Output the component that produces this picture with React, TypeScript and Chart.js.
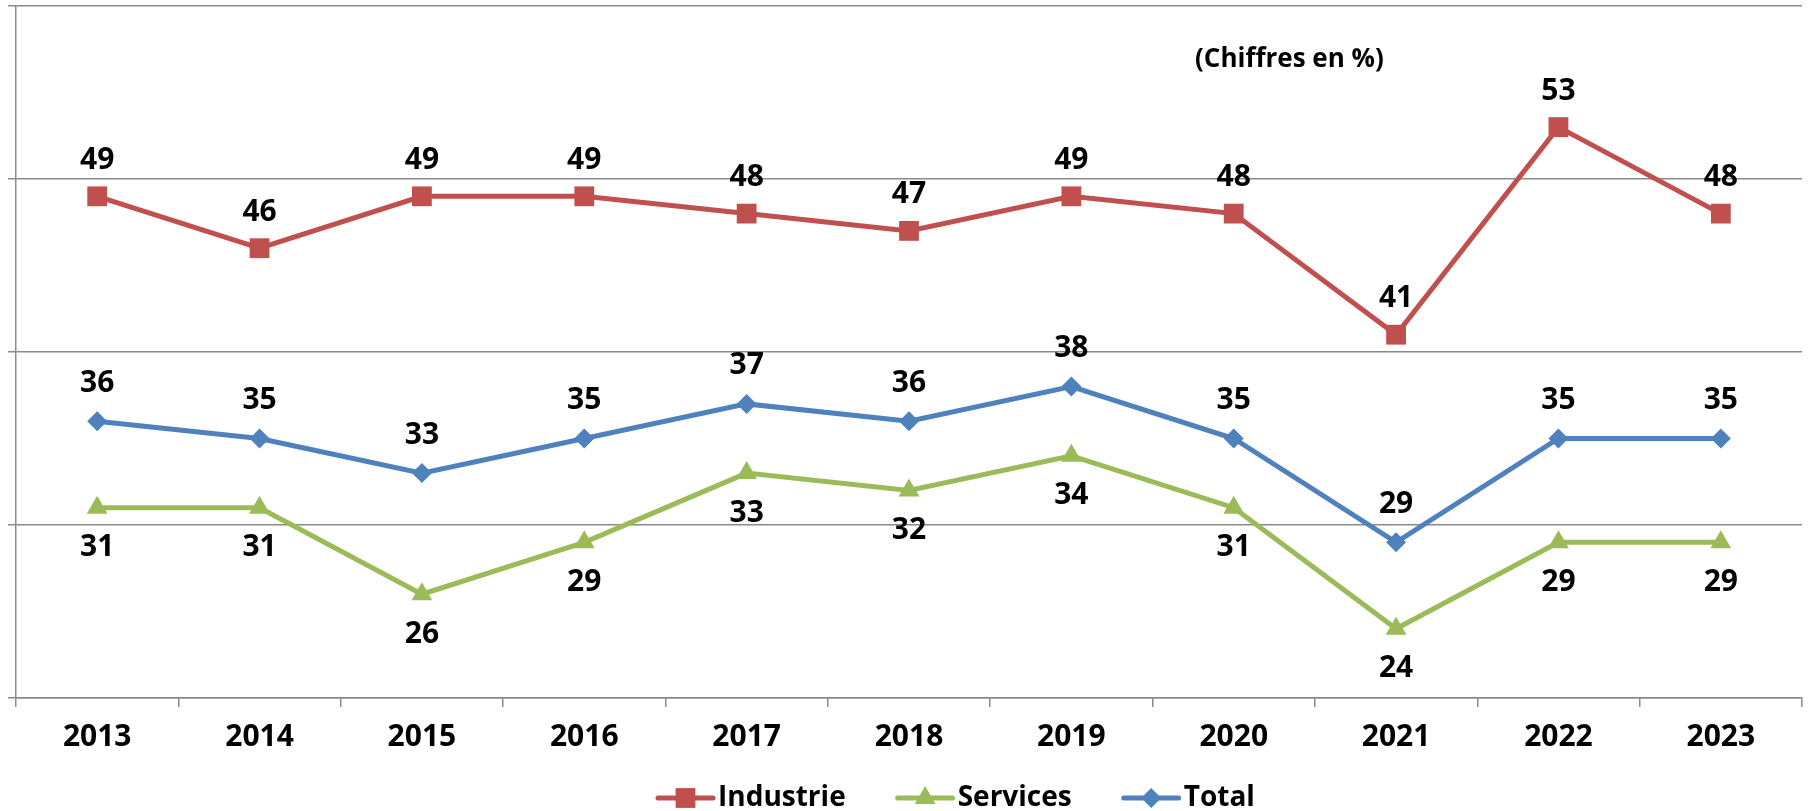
import React, { useEffect, useRef } from "react";
import { Chart, registerables } from "chart.js";

Chart.register(...registerables);

const years = ["2013", "2014", "2015", "2016", "2017", "2018", "2019", "2020", "2021", "2022", "2023"];
const industrie = [49, 46, 49, 49, 48, 47, 49, 48, 41, 53, 48];
const services = [31, 31, 26, 29, 33, 32, 34, 31, 24, 29, 29];
const total = [36, 35, 33, 35, 37, 36, 38, 35, 29, 35, 35];
const seriesNames = ["Industrie", "Services", "Total"];
const note = "(Chiffres en %)";

const RED = "#C0504D";
const GREEN = "#9BBB59";
const BLUE = "#4F81BD";
const GRID = "#8a8a8a";
const FONT = "'Open Sans', 'Noto Sans', sans-serif";

function drawMarker(ctx: CanvasRenderingContext2D, style: string, x: number, y: number, r: number, color: string) {
  ctx.save();
  ctx.fillStyle = color;
  ctx.beginPath();
  if (style === "rect") {
    const s = r * Math.SQRT1_2;
    ctx.rect(x - s, y - s, 2 * s, 2 * s);
  } else if (style === "triangle") {
    ctx.moveTo(x, y - r);
    ctx.lineTo(x + r * 0.866, y + r * 0.5);
    ctx.lineTo(x - r * 0.866, y + r * 0.5);
    ctx.closePath();
  } else {
    ctx.moveTo(x, y - r);
    ctx.lineTo(x + r, y);
    ctx.lineTo(x, y + r);
    ctx.lineTo(x - r, y);
    ctx.closePath();
  }
  ctx.fill();
  ctx.restore();
}

const labelOffsets = [-36, 40, -38];

const dataLabelPlugin = {
  id: "dataLabels",
  afterDatasetsDraw(chart: any) {
    const ctx = chart.ctx as CanvasRenderingContext2D;
    ctx.save();
    ctx.font = `bold 30px ${FONT}`;
    ctx.fillStyle = "#000";
    ctx.textAlign = "center";
    ctx.textBaseline = "middle";
    chart.data.datasets.forEach((ds: any, i: number) => {
      const meta = chart.getDatasetMeta(i);
      meta.data.forEach((pt: any, j: number) => {
        ctx.fillText(String(ds.data[j]), pt.x, pt.y + labelOffsets[i]);
      });
    });
    ctx.font = `bold 26px ${FONT}`;
    ctx.textAlign = "left";
    ctx.fillText(note, 1195, 60);
    ctx.restore();
  },
  afterDraw(chart: any) {
    const ctx = chart.ctx as CanvasRenderingContext2D;
    ctx.save();
    ctx.font = `bold 28px ${FONT}`;
    ctx.textBaseline = "middle";
    ctx.textAlign = "left";
    let x = 658;
    const y = 798;
    chart.data.datasets.forEach((ds: any) => {
      ctx.strokeStyle = ds.borderColor;
      ctx.lineWidth = 5;
      ctx.lineCap = "round";
      ctx.beginPath();
      ctx.moveTo(x, y);
      ctx.lineTo(x + 55, y);
      ctx.stroke();
      drawMarker(ctx, ds.pointStyle, x + 27.5, y, ds.pointRadius, ds.borderColor);
      ctx.fillStyle = "#000";
      ctx.fillText(ds.label, x + 60, y);
      x += 60 + ctx.measureText(ds.label).width + 52;
    });
    ctx.restore();
  },
};

export default function App() {
  const ref = useRef<HTMLCanvasElement | null>(null);
  useEffect(() => {
    document.body.style.margin = "0";
    if (!ref.current) return;
    const chart = new Chart(ref.current, {
      type: "line",
      data: {
        labels: years,
        datasets: [
          { label: seriesNames[0], data: industrie, borderColor: RED, backgroundColor: RED, pointStyle: "rect", pointRadius: 14, pointHoverRadius: 14, pointBorderWidth: 0, borderWidth: 5, tension: 0 },
          { label: seriesNames[1], data: services, borderColor: GREEN, backgroundColor: GREEN, pointStyle: "triangle", pointRadius: 12, pointHoverRadius: 12, pointBorderWidth: 0, borderWidth: 5, tension: 0 },
          { label: seriesNames[2], data: total, borderColor: BLUE, backgroundColor: BLUE, pointStyle: "rectRot", pointRadius: 10, pointHoverRadius: 10, pointBorderWidth: 0, borderWidth: 5, tension: 0 },
        ] as any,
      },
      options: {
        animation: false,
        responsive: false,
        maintainAspectRatio: false,
        layout: { autoPadding: false, padding: { top: 6, left: 8, right: 10, bottom: 0 } },
        plugins: { legend: { display: false }, tooltip: { enabled: false } },
        scales: {
          x: {
            type: "category",
            offset: true,
            grid: { offset: true, drawOnChartArea: false, drawTicks: true, tickLength: 9, color: GRID, lineWidth: 1.5 },
            border: { display: true, color: GRID, width: 1.5 },
            ticks: { color: "#000", font: { family: FONT, size: 30, weight: "bold" }, padding: 12, maxRotation: 0, autoSkip: false },
            afterFit: (s: any) => { s.height = 113; },
          },
          y: {
            min: 20,
            max: 60,
            ticks: { stepSize: 10, display: false, padding: 0 },
            grid: { color: GRID, lineWidth: 1.5, tickLength: 8, drawTicks: true },
            border: { display: true, color: GRID, width: 1.5 },
            afterFit: (s: any) => { s.width = 8; },
          },
        },
      } as any,
      plugins: [dataLabelPlugin],
    });
    return () => chart.destroy();
  }, []);
  return (
    <div style={{ width: 1812, height: 811, background: "#fff" }}>
      <canvas ref={ref} width={1812} height={811} style={{ display: "block" }} />
    </div>
  );
}
